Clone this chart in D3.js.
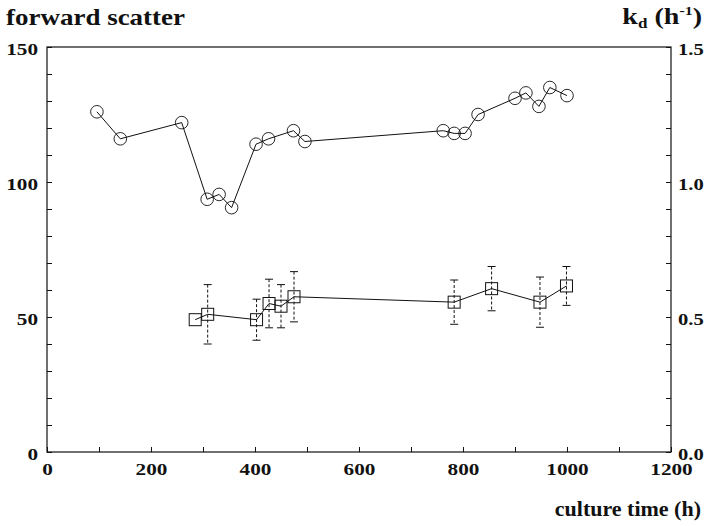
<!DOCTYPE html>
<html><head><meta charset="utf-8">
<script src="https://cdn.jsdelivr.net/npm/d3@7/dist/d3.min.js"></script>
<style>body{margin:0;background:#fff}svg{display:block}
svg text{font-family:"Liberation Serif","Times New Roman",Times,"DejaVu Serif",serif;font-weight:bold;fill:#111}</style>
</head><body><svg id="c" width="707" height="526"></svg>
<script>
// forward scatter (left axis, circles)
const fsTime = [96, 141, 259, 308, 331, 355, 402, 426, 474, 496, 762, 783, 804, 829, 900, 921, 946, 967, 1000];
const fsValue = [126, 116, 122, 93.6, 95.4, 90.5, 114, 116, 119, 115, 119, 118, 118, 125, 131, 133, 128, 135, 132];
// kd (right axis, squares) with error
const kdTime = [285, 309, 403, 427, 450, 475, 783, 855, 948, 999];
const kdValue = [0.49, 0.51, 0.49, 0.55, 0.54, 0.575, 0.555, 0.605, 0.555, 0.615];
const kdErr = [null, 0.11, 0.076, 0.09, 0.08, 0.093, 0.082, 0.082, 0.093, 0.072];
const xTicks = [0, 200, 400, 600, 800, 1000, 1200];
const yLeftTicks = [0, 50, 100, 150];
const yRightTicks = [0.0, 0.5, 1.0, 1.5];

const svg = d3.select("#c");
const L = 47, R = 671, T = 47, B = 452;
const FONT = '"Liberation Serif","Times New Roman",Times,"DejaVu Serif",serif';
const x = d3.scaleLinear().domain([0, 1200]).range([L, R]);
const yL = d3.scaleLinear().domain([0, 150]).range([B, T]);
const yR = d3.scaleLinear().domain([0, 1.5]).range([B, T]);

const g = svg.append("g").attr("stroke", "#111").attr("fill", "none");
g.append("rect").attr("x", L).attr("y", T).attr("width", R - L).attr("height", B - T).attr("stroke-width", 1.2);

// stretched tick label widths (the original's type is wide)
const labelW = s => s.replace(/[^0-9]/g, "").length * 10.6 + s.replace(/[0-9]/g, "").length * 4.5;
function styleText(s, dy) {
  s.select(".domain").remove();
  s.attr("font-family", FONT);
  s.selectAll("text").attr("font-size", 16).attr("font-family", FONT).attr("font-weight", "bold").attr("fill", "#111")
    .attr("lengthAdjust", "spacingAndGlyphs").attr("textLength", function () { return labelW(this.textContent); });
  if (dy) s.selectAll("text").attr("dy", dy);
}
function styleLines(s) { s.select(".domain").remove(); s.selectAll("line").attr("stroke", "#111"); }

// x axis ticks (inward)
svg.append("g").attr("transform", `translate(0,${B})`)
  .call(d3.axisBottom(x).tickValues(d3.range(0, 1201, 100)).tickSize(-5).tickFormat("")).call(styleLines);
svg.append("g").attr("transform", `translate(0,${B})`)
  .call(d3.axisBottom(x).tickValues(xTicks).tickSize(0).tickPadding(11).tickFormat(d3.format("d"))).call(s => styleText(s, "0.75em"));

// left ticks
svg.append("g").attr("transform", `translate(${L},0)`)
  .call(d3.axisLeft(yL).tickValues(d3.range(0, 151, 10)).tickSize(-5).tickFormat("")).call(styleLines);
svg.append("g").attr("transform", `translate(${L},0)`)
  .call(d3.axisLeft(yL).tickValues(yLeftTicks).tickSize(0).tickPadding(9).tickFormat(d3.format("d"))).call(s => styleText(s, "0.45em"));

// right ticks
svg.append("g").attr("transform", `translate(${R},0)`)
  .call(d3.axisRight(yR).tickValues(d3.range(0, 16).map(d => d / 10)).tickSize(-5).tickFormat("")).call(styleLines);
svg.append("g").attr("transform", `translate(${R},0)`)
  .call(d3.axisRight(yR).tickValues(yRightTicks).tickSize(0).tickPadding(7).tickFormat(d3.format(".1f"))).call(s => styleText(s, "0.45em"));

// forward scatter line + circles
const fs = fsTime.map((t, i) => [t, fsValue[i]]);
g.append("path").attr("d", d3.line().x(d => x(d[0])).y(d => yL(d[1]))(fs)).attr("stroke-width", 1);
g.selectAll("circle.fs").data(fs).join("circle").attr("cx", d => x(d[0])).attr("cy", d => yL(d[1])).attr("r", 6.3).attr("stroke-width", 0.9);

// kd
const kd = kdTime.map((t, i) => [t, kdValue[i], kdErr[i]]);
const eb = g.append("g").attr("stroke-width", 1);
kd.filter(d => d[2] != null).forEach(d => {
  const cx = x(d[0]), y1 = yR(d[1] + d[2]), y0 = yR(d[1] - d[2]);
  eb.append("line").attr("x1", cx).attr("x2", cx).attr("y1", y1).attr("y2", y0).attr("stroke-dasharray", "3,2");
  eb.append("line").attr("x1", cx - 4).attr("x2", cx + 4).attr("y1", y1).attr("y2", y1);
  eb.append("line").attr("x1", cx - 4).attr("x2", cx + 4).attr("y1", y0).attr("y2", y0);
});
g.append("path").attr("d", d3.line().x(d => x(d[0])).y(d => yR(d[1]))(kd)).attr("stroke-width", 1);
g.selectAll("rect.kd").data(kd).join("rect").attr("x", d => x(d[0]) - 6).attr("y", d => yR(d[1]) - 6).attr("width", 12).attr("height", 12).attr("fill", "none").attr("stroke-width", 1);

// titles
svg.append("text").attr("x", 6).attr("y", 25).attr("font-size", 23).attr("font-family", FONT)
  .attr("textLength", 179).attr("lengthAdjust", "spacingAndGlyphs").text("forward scatter");
const kg = svg.append("g").attr("transform", "translate(702,24) scale(1.22,1)");
const kt = kg.append("text").attr("x", 0).attr("y", 0).attr("font-size", 23).attr("font-family", FONT).attr("text-anchor", "end");
kt.append("tspan").text("k");
kt.append("tspan").attr("font-size", 14).attr("dy", 4).text("d");
kt.append("tspan").attr("dy", -4).text(" (h");
kt.append("tspan").attr("font-size", 13).attr("dy", -9).text("-1");
kt.append("tspan").attr("dy", 9).text(")");
svg.append("text").attr("x", 701).attr("y", 516).attr("font-size", 22).attr("font-family", FONT).attr("text-anchor", "end")
  .text("culture time (h)");
</script></body></html>
